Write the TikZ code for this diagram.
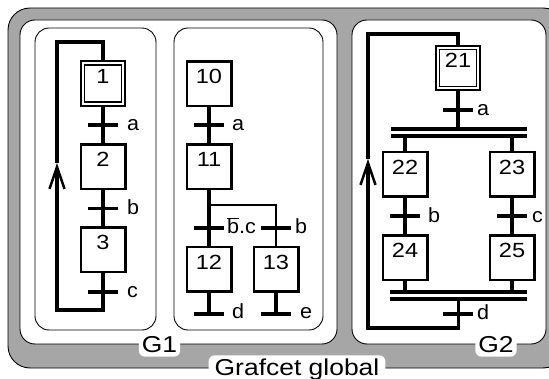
\documentclass[tikz,border=0pt]{standalone}
\usepackage{fontspec}
\setmainfont{Liberation Sans}
\newfontfamily\numfont{Liberation Sans}[FakeStretch=1.15]
\newfontfamily\lblfont{Liberation Sans}[FakeStretch=1.05]
\usetikzlibrary{arrows.meta}
\definecolor{framegray}{RGB}{166,166,166}
\tikzset{
  stepbox/.style={draw, line width=2.5pt, minimum size=44.5pt, inner sep=0pt, fill=white},
  initbox/.style={draw, line width=2.3pt, minimum size=44.4pt, inner sep=0pt, fill=white},
  initinner/.style={draw, line width=1.7pt, minimum size=37pt, inner sep=0pt},
  num/.style={font=\numfont\fontsize{20.5}{24}\selectfont, anchor=base, inner sep=0pt},
  trans/.style={fill=black, minimum width=30pt, minimum height=3.6pt, inner sep=0pt},
  tlabel/.style={font=\lblfont\fontsize{20.5}{24}\selectfont, anchor=base west, inner sep=0pt},
  link/.style={line width=3.3pt},
  thinlink/.style={line width=2.7pt},
  dbar/.style={fill=black, minimum height=3.3pt, inner sep=0pt},
  region/.style={draw, line width=0.9pt, fill=white, rounded corners=15pt},
  tag/.style={fill=white, rounded corners=6pt, font=\numfont\fontsize{23}{27}\selectfont},
  loopbarb/.style={-{Straight Barb[length=22pt,width=15pt,line width=2.5pt]}}
}
\begin{document}
\begin{tikzpicture}[x=1pt,y=-1pt]
\useasboundingbox (0,0) rectangle (549,379);
\clip (0,0) rectangle (549,379);
% frames
\draw[fill=framegray, line width=0.9pt, rounded corners=22pt] (8,8) rectangle (565,368);
\draw[region] (20,20) rectangle (337,344);
\draw[region] (352,20) rectangle (546,344);
\draw[region, rounded corners=14pt] (35,28) rectangle (156,330);
\draw[region, rounded corners=14pt] (174,28) rectangle (323,330);
\node[tag, inner xsep=3pt, inner ysep=3.5pt] (g1tag) at (159.5,345) {G1};
\node[tag, inner xsep=3pt, inner ysep=3.5pt] (g2tag) at (496,345) {G2};
\node[tag, anchor=base, inner xsep=6pt, inner ysep=3pt] (gtag) at (297,375) {Grafcet global};

% ---------- G1 first grafcet ----------
\node[initbox] (s1) at (103,83.5) {};
\node[initinner] (s1i) at (s1.center) {};
\node[stepbox] (s2) at (103,167) {};
\node[stepbox] (s3) at (103,250) {};
\coordinate (l1b) at (57,310);
\coordinate (l1a) at (57,163);
\coordinate (l1t) at (57,42);
\draw[link] (s1.south) -- (s2.north);
\draw[link] (s2.south) -- (s3.north);
\draw[link, loopbarb] (s3.south) |- (l1b) -- (l1a);
\draw[link] (l1a) -- (l1t) -| (s1.north);
\node[num] (n1) at (s1.center) {1};
\node[num] (n2) at (s2.center) {2};
\node[num] (n3) at (s3.center) {3};
\node[trans] (t1) at (103,125) {};
\node[trans] (t2) at (103,208.5) {};
\node[trans] (t3) at (103,292) {};
\node[tlabel] (la1) at (127,131) {a};
\node[tlabel] (lb1) at (127,214.5) {b};
\node[tlabel] (lc1) at (127,298) {c};

% ---------- G1 second grafcet ----------
\node[stepbox] (s10) at (209,84) {};
\node[stepbox] (s11) at (209,167) {};
\node[stepbox] (s12) at (209,269.5) {};
\node[stepbox] (s13) at (276,269.5) {};
\coordinate (br) at (209,205);
\draw[link] (s10.south) -- (s11.north);
\draw[link] (s11.south) -- (s12.north);
\draw[thinlink] (br) -| (s13.north);
\node[trans] (t10) at (209,125) {};
\node[trans] (t11a) at (209,228) {};
\node[trans] (t11b) at (276,228) {};
\node[trans] (t12) at (209,314) {};
\node[trans] (t13) at (276,314) {};
\draw[link] (s12.south) -- (t12.south);
\draw[link] (s13.south) -- (t13.south);
\node[num] (n10) at (s10.center) {10};
\node[num] (n11) at (s11.center) {11};
\node[num] (n12) at (s12.center) {12};
\node[num] (n13) at (s13.center) {13};
\node[tlabel] (la10) at (232,131) {a};
\node[tlabel] (lbc) at (227,234) {$\overline{\hbox{b}}$.c};
\node[tlabel] (lb13) at (295,234) {b};
\node[tlabel] (ld12) at (232,319) {d};
\node[tlabel] (le13) at (300,319) {e};

% ---------- G2 ----------
\node[initbox] (s21) at (458,68) {};
\node[initinner] (s21i) at (s21.center) {};
\node[dbar, minimum width=136pt] (d1a) at (459,129) {};
\node[dbar, minimum width=136pt] (d1b) at (459,136) {};
\node[stepbox] (s22) at (405,174.5) {};
\node[stepbox] (s23) at (512,174.5) {};
\node[stepbox] (s24) at (405,258) {};
\node[stepbox] (s25) at (512,258) {};
\node[dbar, minimum width=137pt] (d2a) at (458.5,292) {};
\node[dbar, minimum width=137pt] (d2b) at (458.5,299) {};
\coordinate (l2b) at (368,328);
\coordinate (l2a) at (368,159);
\coordinate (l2t) at (368,34);
\draw[link] (s21.south) -- (s21.south |- d1a.north);
\draw[link] (d1b.south -| s22.north) -- (s22.north);
\draw[link] (d1b.south -| s23.north) -- (s23.north);
\draw[link] (s22.south) -- (s24.north);
\draw[link] (s23.south) -- (s25.north);
\draw[link] (s24.south) -- (s24.south |- d2a.north);
\draw[link] (s25.south) -- (s25.south |- d2a.north);
\draw[link, loopbarb] (d2b.south) |- (l2b) -- (l2a);
\draw[link] (l2a) -- (l2t) -| (s21.north);
\node[trans] (t21) at (458,110) {};
\node[trans] (t22) at (405,216) {};
\node[trans] (t23) at (512,216) {};
\node[trans] (t24) at (458,314) {};
\node[num] (n21) at (s21.center) {21};
\node[num] (n22) at (s22.center) {22};
\node[num] (n23) at (s23.center) {23};
\node[num] (n24) at (s24.center) {24};
\node[num] (n25) at (s25.center) {25};
\node[tlabel] (la21) at (477,116) {a};
\node[tlabel] (lb22) at (428,222.5) {b};
\node[tlabel] (lc23) at (532,222.5) {c};
\node[tlabel] (ld24) at (477,320) {d};
\end{tikzpicture}
\end{document}
